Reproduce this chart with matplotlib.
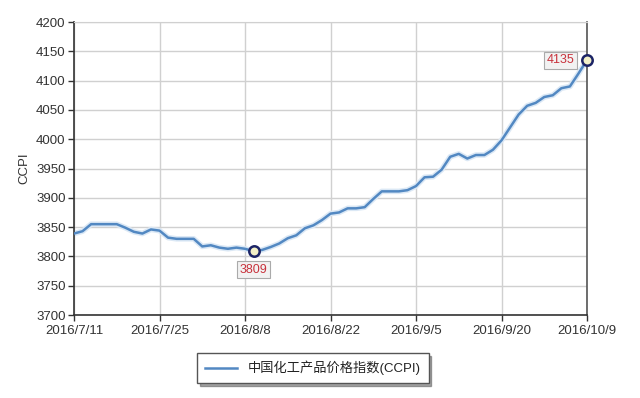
import matplotlib
matplotlib.use("Agg")
import matplotlib.pyplot as plt

plt.rcParams['font.family'] = ['Liberation Sans', 'Noto Sans CJK SC', 'DejaVu Sans']

tick_labels = ["2016/7/11", "2016/7/25", "2016/8/8", "2016/8/22", "2016/9/5", "2016/9/20", "2016/10/9"]
values = [3839, 3843, 3855, 3855, 3855, 3855, 3849, 3842, 3839, 3846,
          3844, 3832, 3830, 3830, 3830, 3817, 3819, 3815, 3813, 3815,
          3813, 3809, 3811, 3816, 3822, 3831, 3836, 3848, 3853, 3862,
          3873, 3875, 3882, 3882, 3884, 3898, 3911, 3911, 3911, 3913,
          3920, 3935, 3936, 3948, 3970, 3975, 3967, 3973, 3973, 3982,
          3998, 4020, 4042, 4057, 4062, 4072, 4075, 4087, 4090, 4112,
          4135]
series_name = "中国化工产品价格指数(CCPI)"
y_label = "CCPI"
y_ticks = [3700, 3750, 3800, 3850, 3900, 3950, 4000, 4050, 4100, 4150, 4200]

x = list(range(len(values)))
fig = plt.figure(figsize=(6.4, 3.98), dpi=100)
ax = fig.add_axes([74/640, 1-315/398, (587-74)/640, (315-22)/398])

ax.plot(x, values, color='#dbe8f5', lw=4.0, solid_capstyle='round', zorder=2)
ax.plot(x, values, color='#5288c2', lw=1.8, zorder=3)

imin = values.index(min(values))
ilast = len(values) - 1
for i in (imin, ilast):
    ax.plot([x[i]], [values[i]], marker='o', ms=7.5, mfc='#f3f1c8', mec='#1c2466', mew=1.8, zorder=5, clip_on=False)

bbox = dict(boxstyle='square,pad=0.2', fc='#f2f2f2', ec='#aaaaaa', lw=0.8)
ax.annotate(str(values[imin]), (x[imin], values[imin]), xytext=(0, -9), textcoords='offset points',
            ha='center', va='top', color='#c8323c', fontsize=9, bbox=bbox, zorder=6)
ax.annotate(str(values[ilast]), (x[ilast], values[ilast]), xytext=(-9, 0), textcoords='offset points',
            ha='right', va='center', color='#c8323c', fontsize=9, bbox=bbox, zorder=6)

ax.set_xlim(0, len(values) - 1)
ax.set_ylim(3700, 4200)
ax.set_xticks(list(range(0, len(values), 10)))
ax.set_xticklabels(tick_labels)
ax.set_yticks(y_ticks)
ax.grid(True, color='#d0d0d0', lw=1.0)
ax.set_axisbelow(True)
ax.tick_params(direction='out', length=4, width=1, colors='#333333', labelsize=9.5, pad=2)
ax.tick_params(axis='x', pad=3)
for s in ('left', 'bottom'):
    ax.spines[s].set_color('#333333')
    ax.spines[s].set_linewidth(1.2)
ax.spines['right'].set_color('#555555')
ax.spines['right'].set_linewidth(1.2)
ax.spines['top'].set_color('#d0d0d0')
ax.set_ylabel(y_label, fontsize=9.5, color='#333333', labelpad=4)

leg = fig.legend([ax.lines[1]], [series_name], loc='center', bbox_to_anchor=(313/640, 1-368/398),
                 frameon=True, fancybox=False, shadow=True, fontsize=9.5, handlelength=2.4,
                 borderpad=0.6, edgecolor='#555555', labelcolor='#222222')
leg.get_frame().set_linewidth(1.0)

fig.savefig("out.png", dpi=100)
